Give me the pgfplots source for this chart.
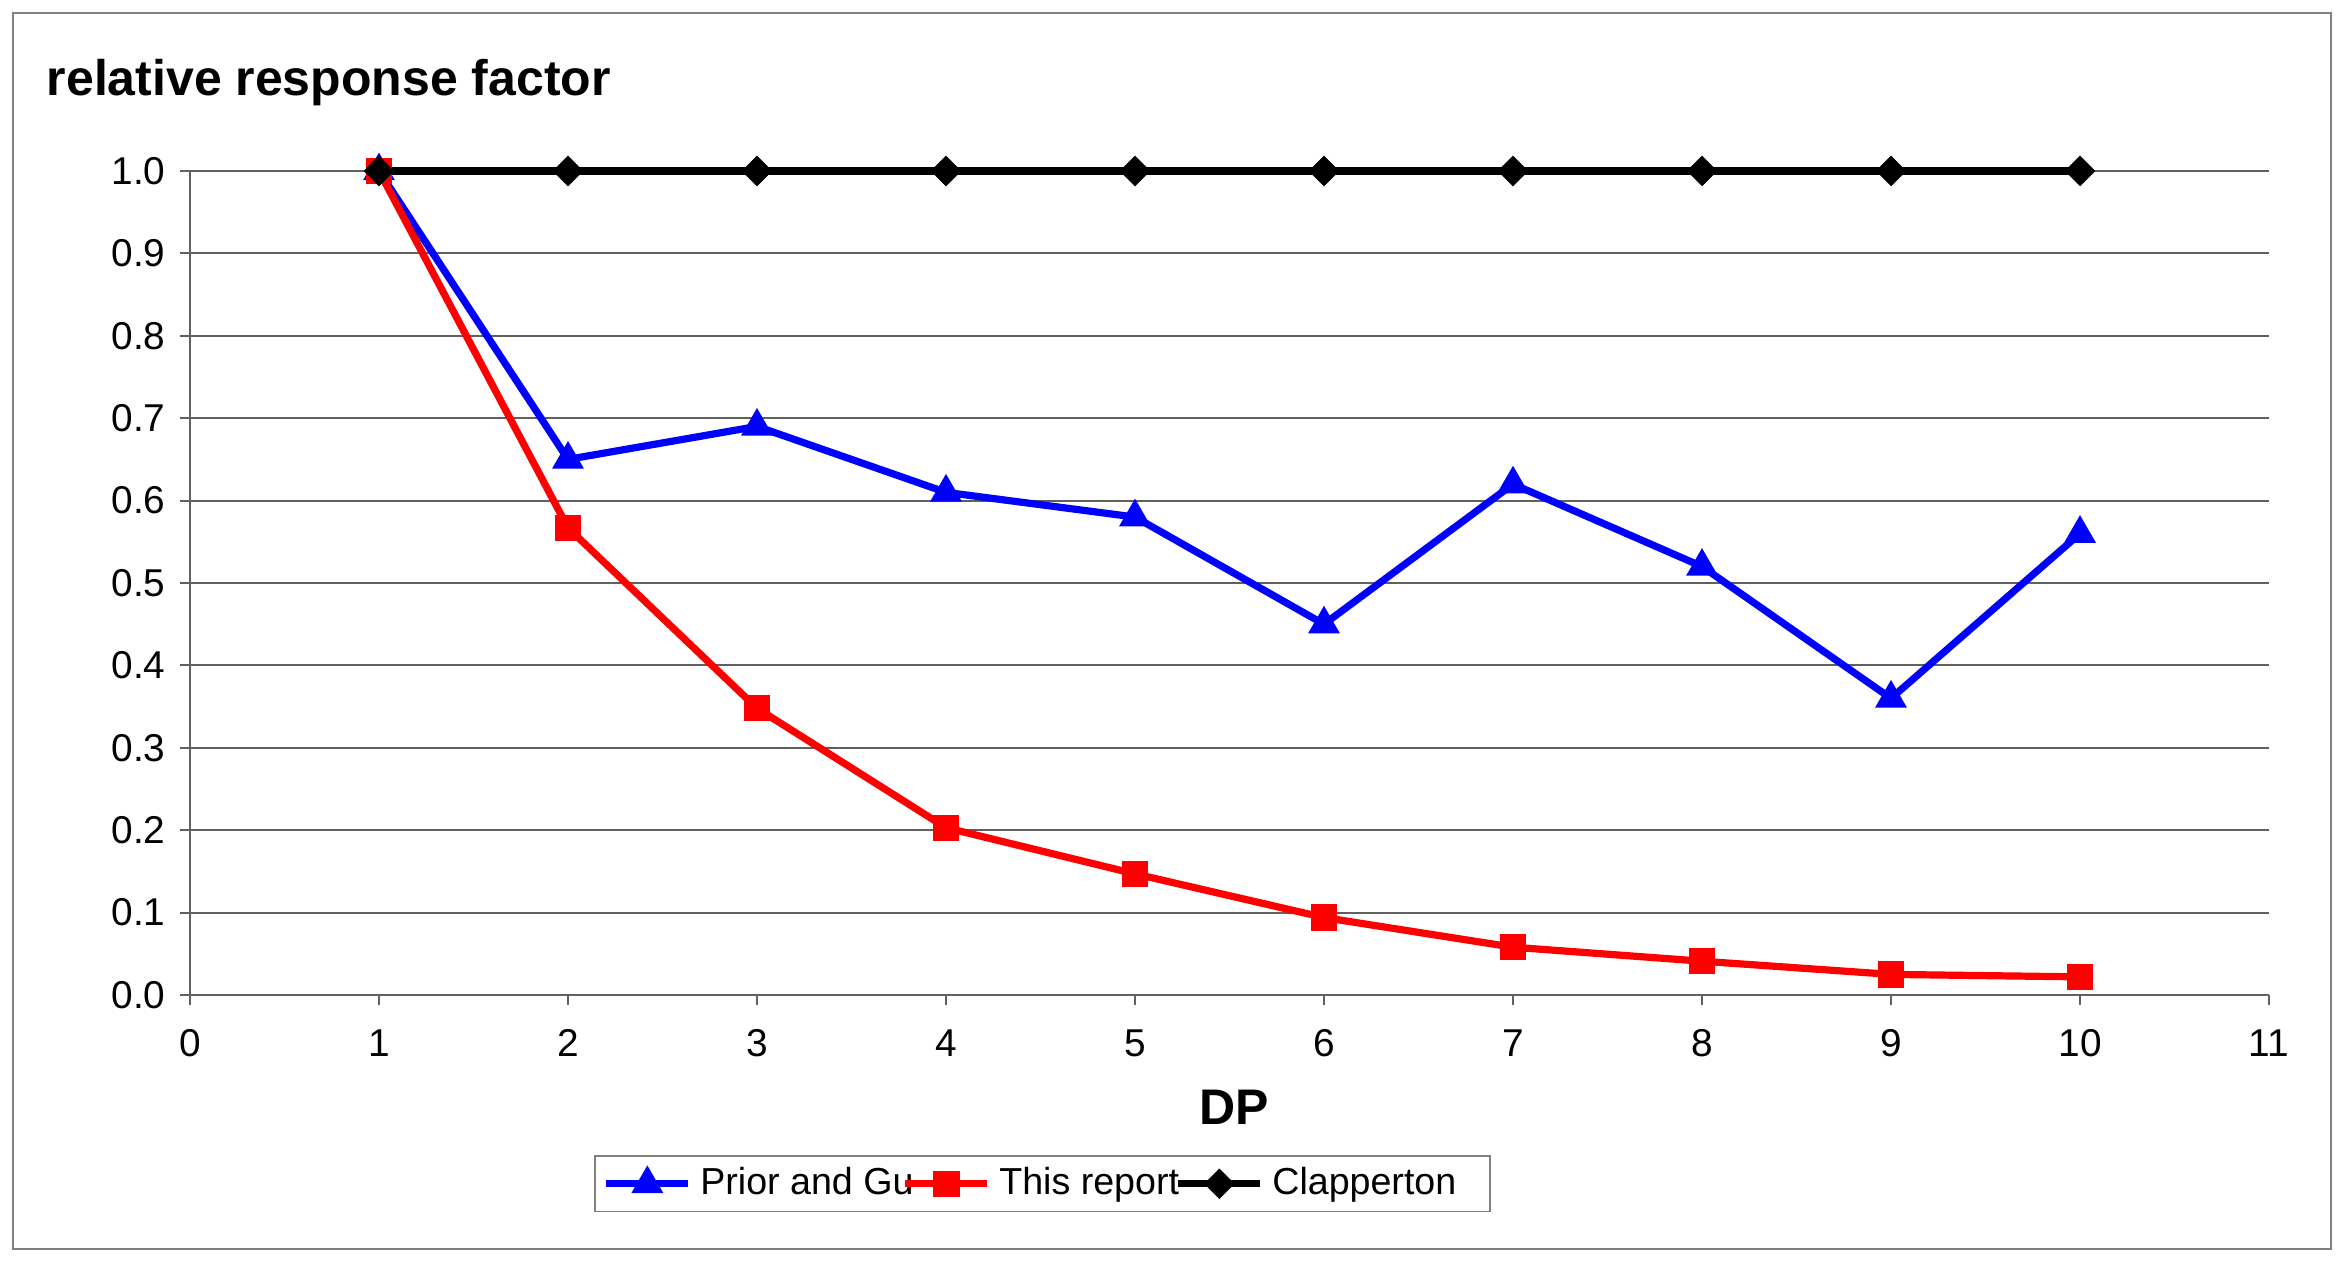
\documentclass[border=0pt]{standalone}
\usepackage{fontspec}
\setmainfont{Liberation Sans}
\usepackage{pgfplots}
\pgfplotsset{compat=1.18}
\definecolor{gridgray}{RGB}{96,96,96}
\definecolor{framegray}{RGB}{128,128,128}
\begin{document}
\begin{tikzpicture}
\useasboundingbox (0,0) rectangle (586.5pt,315.5pt);
\draw[framegray, line width=0.5pt] (3.25pt,3.25pt) rectangle (582.75pt,312.25pt);
\node[anchor=base west, inner sep=0pt, font=\bfseries\fontsize{12.5}{14}\selectfont] at (11.5pt,291.6pt) {relative response factor};
\begin{axis}[
  at={(47.5pt,66.75pt)}, anchor=south west,
  scale only axis, width=519.75pt, height=206pt,
  xmin=0, xmax=11, ymin=0, ymax=1,
  clip=false,
  axis x line=bottom, axis y line=left,
  axis line style={-, gridgray, line width=0.5pt},
  xtick={0,1,2,3,4,5,6,7,8,9,10,11},
  ytick={0,0.1,0.2,0.3,0.4,0.5,0.6,0.7,0.8,0.9,1},
  ymajorgrids, grid style={gridgray, line width=0.5pt},
  tick style={gridgray, line width=0.5pt},
  major tick length=2.6pt, tick align=outside,
  /pgf/number format/assume math mode=true,
  ticklabel style={font=\fontsize{9.7}{11}\selectfont},
  yticklabel style={/pgf/number format/fixed, /pgf/number format/fixed zerofill, /pgf/number format/precision=1},
  xticklabel style={yshift=-2.5pt},
  xlabel={DP},
  xlabel style={font=\bfseries\fontsize{12.5}{14}\selectfont, at={(axis description cs:0.5,0)}, anchor=base, yshift=-32.5pt, xshift=1.1pt},
  legend columns=3,
  legend style={at={(0.1943,-0.1942)}, anchor=north west, draw=framegray,
    font=\fontsize{9.4}{11}\selectfont, inner xsep=2pt, inner ysep=2.8pt,
    nodes={inner sep=0pt},
    /tikz/every odd column/.style={column sep=2.1pt},
    /tikz/every even column/.style={column sep=0pt}},
  legend image code/.code={\draw[mark repeat=2,mark phase=2] plot coordinates {(0pt,0pt) (10.25pt,0pt) (20.5pt,0pt)};},
]
\addplot[blue, line width=1.8pt, mark=triangle*, mark size=4.2pt, mark options={line width=0.4pt}] coordinates {
(1,1.0) (2,0.65) (3,0.69) (4,0.61) (5,0.58) (6,0.45) (7,0.62) (8,0.52) (9,0.36) (10,0.56)};
\addlegendentry{\makebox[50.35pt][l]{Prior and Gu}}
\addplot[red, line width=1.8pt, mark=square*, mark size=3.1pt, mark options={line width=0.4pt}] coordinates {
(1,1.0) (2,0.567) (3,0.348) (4,0.203) (5,0.147) (6,0.094) (7,0.058) (8,0.041) (9,0.025) (10,0.022)};
\addlegendentry{\makebox[43.85pt][l]{This report}}
\addplot[black, line width=1.8pt, mark=square*, mark size=2.5pt, mark options={line width=0.4pt, rotate=45}] coordinates {
(1,1) (2,1) (3,1) (4,1) (5,1) (6,1) (7,1) (8,1) (9,1) (10,1)};
\addlegendentry{\makebox[52.4pt][l]{Clapperton}}
\end{axis}
\end{tikzpicture}
\end{document}
